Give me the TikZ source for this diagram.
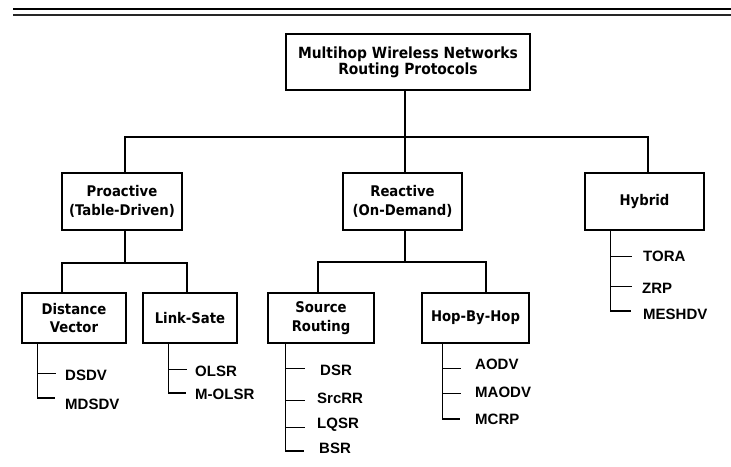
\documentclass[tikz,border=0pt]{standalone}
\usepackage{fontspec}
\setmainfont{Liberation Sans}
\newfontfamily\boxfont{DejaVu Sans Condensed}
\tikzset{
    catbox/.style={draw, line width=1.5pt, align=center, inner sep=0pt,
        font=\boxfont\bfseries\fontsize{14.7}{18.5}\selectfont},
    link/.style={line width=1.6pt},
    stem/.style={line width=1.5pt},
    tick/.style={line width=0.9pt},
    leaf/.style={anchor=west, inner sep=0pt, font=\bfseries\fontsize{15}{16}\selectfont}
}
\begin{document}
\begin{tikzpicture}[x=1pt, y=-1pt]
    \useasboundingbox (0,0) rectangle (731,466);
    % double rule on top
    \draw[line width=2.3pt] (13,8.7) to (731,8.7);
    \draw[line width=2.3pt, black!85] (13,15.3) to (731,15.3);
    % boxes
    \node[catbox, minimum width=244pt, minimum height=56pt, font=\boxfont\bfseries\fontsize{15.4}{16}\selectfont] (root) at (408,62) {Multihop Wireless Networks\\Routing Protocols};
    \node[catbox, minimum width=120pt, minimum height=57pt] (pro) at (122,201.5) {Proactive\\(Table-Driven)};
    \node[catbox, minimum width=119pt, minimum height=57pt] (rea) at (402.5,201.5) {Reactive\\(On-Demand)};
    \node[catbox, minimum width=119pt, minimum height=57pt] (hyb) at (644.5,201.5) {Hybrid};
    \node[catbox, minimum width=104pt, minimum height=50pt] (dv) at (74,318) {Distance\\Vector};
    \node[catbox, minimum width=94pt, minimum height=50pt] (ls) at (190,318) {Link-Sate};
    \node[catbox, minimum width=106pt, minimum height=50pt] (sr) at (321,318) {Source\\Routing};
    \node[catbox, minimum width=107pt, minimum height=50pt] (hbh) at (475.5,318) {Hop-By-Hop};
    % tree connectors
    \draw[link] ([xshift=-3pt]root.south) -- ++(0,46) coordinate (top);
    \draw[link] ([xshift=3pt]pro.north) |- (top) -| ([xshift=3.5pt]hyb.north);
    \draw[link] (top) -- (top |- rea.north);
    \draw[link] ([xshift=3pt]pro.south) -- ++(0,32) coordinate (pj);
    \draw[link] ([xshift=-12pt]dv.north) |- (pj) -| ([xshift=-3pt]ls.north);
    \draw[link] ([xshift=2.5pt]rea.south) -- ++(0,31) coordinate (rj);
    \draw[link] ([xshift=-3pt]sr.north) |- (rj) -| ([xshift=10.5pt]hbh.north);
    % distance vector
    \draw[stem] ([xshift=16pt]dv.south west) |- ++(18,54);
    \draw[tick] (38,373) to (56,373);
        \node[leaf] (dsdv) at (65,375) {DSDV};
        \node[leaf] (mdsdv) at (65,404) {MDSDV};
    % link state
    \draw[stem] ([xshift=26pt]ls.south west) |- ++(18,49);
    \draw[tick] (169,369) to (187,369);
        \node[leaf] (olsr) at (195,371) {OLSR};
        \node[leaf] (molsr) at (195,394) {M-OLSR};
    % source routing
    \draw[stem] ([xshift=18pt]sr.south west) |- ++(19,107);
    \draw[tick] (286,368) to (305,368);
    \draw[tick] (286,400) to (305,400);
    \draw[tick] (286,427) to (305,427);
        \node[leaf] (dsr) at (320,370) {DSR};
        \node[leaf] (srcrr) at (317,398) {SrcRR};
        \node[leaf] (lqsr) at (317,425) {LQSR};
        \node[leaf] (bsr) at (319,448) {BSR};
    % hop by hop
    \draw[stem] ([xshift=21pt]hbh.south west) |- ++(18,75);
    \draw[tick] (443,368) to (461,368);
    \draw[tick] (443,393) to (461,393);
        \node[leaf] (aodv) at (475,364) {AODV};
        \node[leaf] (maodv) at (475,392) {MAODV};
        \node[leaf] (mcrp) at (475,419) {MCRP};
    % hybrid
    \draw[stem] ([xshift=26pt]hyb.south west) |- ++(21,80);
    \draw[tick] (611,256) to (632,256);
    \draw[tick] (611,286) to (632,286);
        \node[leaf] (tora) at (643,256) {TORA};
        \node[leaf] (zrp) at (642,288) {ZRP};
        \node[leaf] (meshdv) at (643,314) {MESHDV};
\end{tikzpicture}
\end{document}
